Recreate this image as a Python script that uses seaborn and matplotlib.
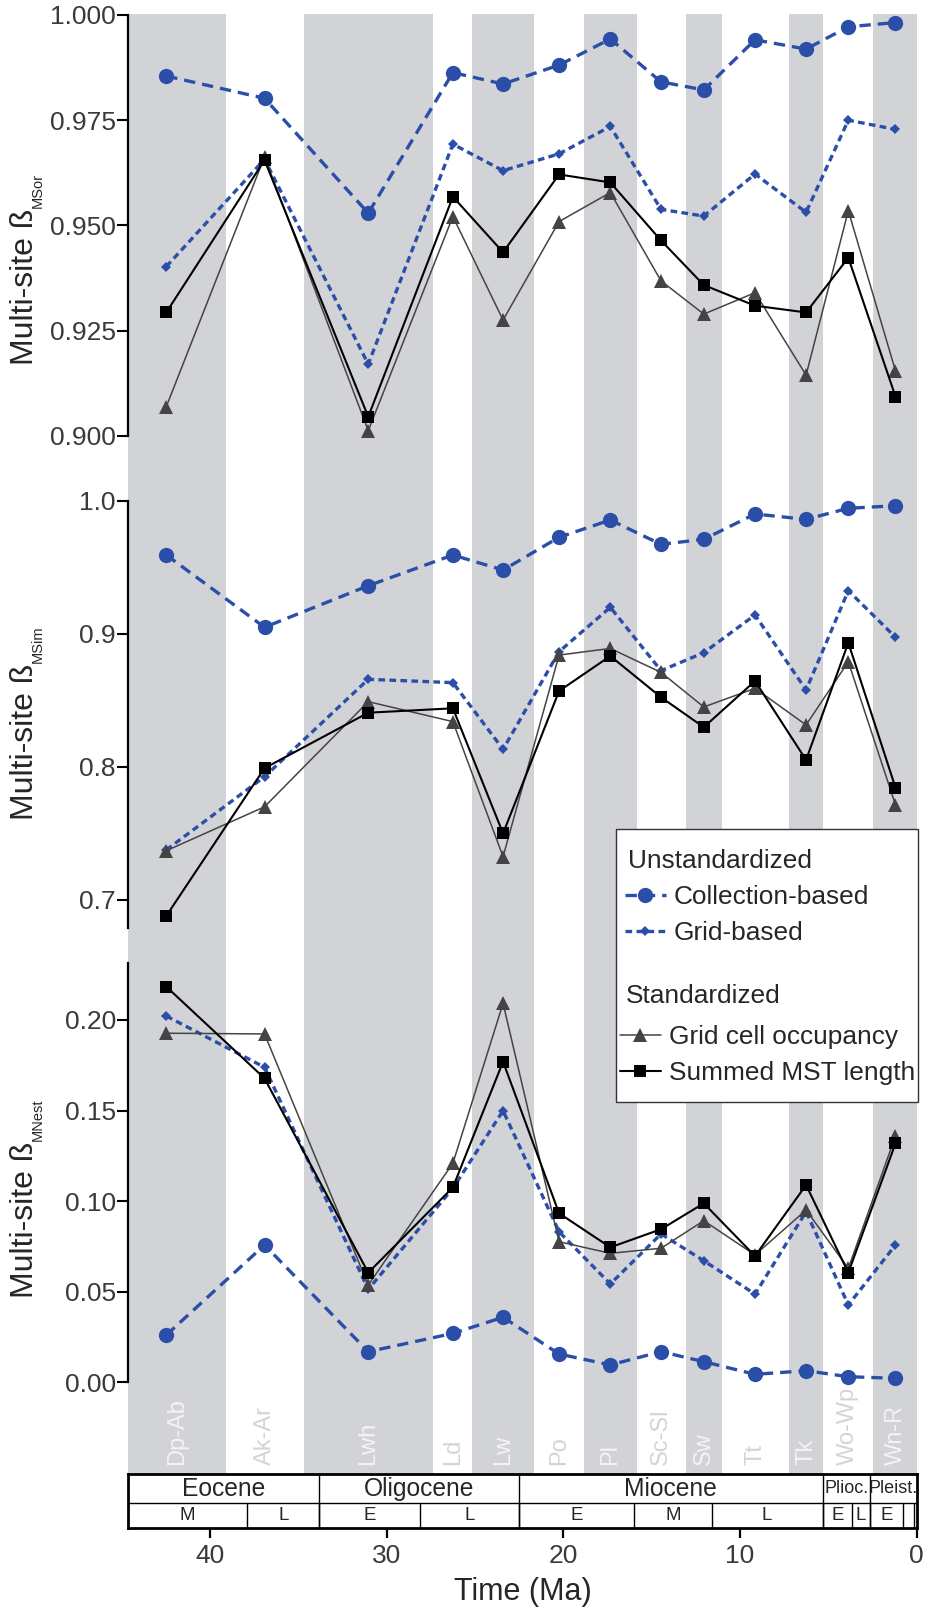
import matplotlib
matplotlib.use("Agg")
import matplotlib.pyplot as plt
import seaborn as sns
from matplotlib.lines import Line2D
from matplotlib.patches import Rectangle

# NZ stage bins (Ma), labels and bin mid-points
stage_labels = ["Dp-Ab", "Ak-Ar", "Lwh", "Ld", "Lw", "Po", "Pl", "Sc-Sl", "Sw", "Tt", "Tk", "Wo-Wp", "Wn-R"]
stage_edges = [45.8, 39.1, 34.7, 27.36, 25.15, 21.66, 18.83, 15.85, 13.07, 11.04, 7.24, 5.29, 2.46, 0.0]
stage_mid = [42.47, 36.91, 31.04, 26.25, 23.41, 20.24, 17.34, 14.47, 12.05, 9.15, 6.26, 3.87, 1.20]

# beta MSor
sor_collection = [0.9855, 0.9802, 0.9529, 0.9863, 0.9836, 0.9881, 0.9943, 0.9841, 0.9822, 0.9941, 0.9919, 0.9972, 0.9982]
sor_grid = [0.9402, 0.9657, 0.9170, 0.9693, 0.9630, 0.9670, 0.9735, 0.9538, 0.9522, 0.9622, 0.9531, 0.9750, 0.9728]
sor_occupancy = [0.9069, 0.9663, 0.9012, 0.9521, 0.9275, 0.9509, 0.9578, 0.9368, 0.9289, 0.9340, 0.9144, 0.9535, 0.9154]
sor_mst = [0.9293, 0.9655, 0.9045, 0.9568, 0.9436, 0.9621, 0.9602, 0.9464, 0.9358, 0.9309, 0.9293, 0.9423, 0.9093]

# beta MSim
sim_collection = [0.9592, 0.9049, 0.9361, 0.9592, 0.9479, 0.9725, 0.9855, 0.9672, 0.9710, 0.9900, 0.9860, 0.9943, 0.9962]
sim_grid = [0.7376, 0.7926, 0.8658, 0.8633, 0.8132, 0.8866, 0.9199, 0.8723, 0.8858, 0.9141, 0.8578, 0.9324, 0.8974]
sim_occupancy = [0.737, 0.770, 0.849, 0.834, 0.7325, 0.884, 0.889, 0.871, 0.845, 0.859, 0.8315, 0.879, 0.7714]
sim_mst = [0.688, 0.799, 0.8407, 0.844, 0.750, 0.857, 0.8833, 0.8523, 0.8298, 0.8645, 0.8052, 0.8933, 0.7844]

# beta MNest
nest_collection = [0.0261, 0.0758, 0.0169, 0.0270, 0.0359, 0.0156, 0.0096, 0.0169, 0.0114, 0.0044, 0.0064, 0.0031, 0.0022]
nest_grid = [0.2022, 0.1739, 0.0513, 0.1071, 0.1499, 0.0831, 0.0543, 0.0819, 0.0671, 0.0487, 0.0942, 0.0427, 0.0758]
nest_occupancy = [0.1927, 0.1923, 0.0537, 0.1209, 0.2092, 0.0776, 0.0712, 0.0740, 0.0892, 0.0703, 0.0951, 0.0629, 0.1360]
nest_mst = [0.2184, 0.1678, 0.0605, 0.1076, 0.1770, 0.0933, 0.0745, 0.0845, 0.0988, 0.0697, 0.1089, 0.0605, 0.1319]

# geological timescale
epoch_names = ["Eocene", "Oligocene", "Miocene", "Plioc.", "Pleist."]
epoch_edges = [44.62, 33.8, 22.5, 5.33, 2.65, 0.0]
sub_names = ["M", "L", "E", "L", "E", "M", "L", "E", "L", "E", "", ""]
sub_edges = [44.62, 37.9, 33.8, 28.1, 22.5, 16.0, 11.6, 5.33, 3.65, 2.65, 0.78, 0.13, 0.0]
time_ticks = [40, 30, 20, 10, 0]

XLIM = (44.62, 0.0)
BLUE = "#2b4fa9"
DGRAY = "#444444"
BAND = "#d1d3d6"
TICKC = "#3a3a3a"

sns.set_style("white")
plt.rcParams["font.family"] = ["Liberation Sans", "DejaVu Sans"]

W, H = 930, 1611
fig = plt.figure(figsize=(W / 100, H / 100), dpi=100)


def px_axes(top, bottom, left=128.3, right=916.7):
    return fig.add_axes([left / W, 1 - bottom / H, (right - left) / W, (bottom - top) / H])


# shaded stage bands behind everything
ax_bg = px_axes(14, 1474)
ax_bg.set_xlim(*XLIM)
ax_bg.set_ylim(0, 1)
ax_bg.axis("off")
for i, lab in enumerate(stage_labels):
    lo, hi = stage_edges[i], stage_edges[i + 1]
    gray = i % 2 == 0
    if gray:
        ax_bg.axvspan(hi, lo, color=BAND, lw=0)
    xm = (min(lo, XLIM[0]) + hi) / 2 if i == 0 else stage_mid[i]
    ax_bg.text(xm, 0.006, lab, rotation=90, ha="center", va="bottom", fontsize=17,
               color="#f4f4f4" if gray else "#d4d4d6", transform=ax_bg.get_xaxis_transform())

styles = {
    "Collection-based": dict(color=BLUE, lw=2.4, linestyle=(0, (3.4, 2.1)), marker="o", markersize=11),
    "Grid-based": dict(color=BLUE, lw=2.4, linestyle=(0, (2.0, 1.3)), marker="D", markersize=5.5),
    "Grid cell occupancy": dict(color=DGRAY, lw=1.1, linestyle="-", marker="^", markersize=10.5),
    "Summed MST length": dict(color="black", lw=1.5, linestyle="-", marker="s", markersize=9),
}

renderer = fig.canvas.get_renderer()


def draw_panel(top, bottom, ylim, ticks, fmt, series, sub, label_start):
    ax = px_axes(top, bottom)
    ax.patch.set_alpha(0)
    for name, vals in zip(styles, series):
        sns.lineplot(x=stage_mid, y=vals, ax=ax, sort=False, errorbar=None,
                     markeredgewidth=0, clip_on=False, **styles[name])
    ax.set_xlim(*XLIM)
    ax.set_ylim(*ylim)
    ax.set_yticks(ticks)
    ax.set_yticklabels([fmt % t for t in ticks])
    ax.xaxis.set_visible(False)
    for s in ["top", "right", "bottom"]:
        ax.spines[s].set_visible(False)
    ax.spines["left"].set_linewidth(1.6)
    ax.spines["left"].set_color("black")
    ax.spines["left"].set_bounds(*ylim)
    ax.tick_params(axis="y", direction="out", length=8, width=1.5, pad=1,
                   labelsize=19, labelcolor=TICKC, color="black", left=True)
    ax.set_ylabel("")
    # y label with a small subscript drawn right after it
    t = fig.text(33.3 / W, 1 - label_start / H, "Multi-site ß", rotation=90, rotation_mode="anchor",
                 ha="left", va="baseline", fontsize=23)
    bb = t.get_window_extent(renderer)
    fig.text(41.5 / W, (bb.y1 + 1) / H, sub, rotation=90, rotation_mode="anchor",
             ha="left", va="baseline", fontsize=10.5)
    return ax


draw_panel(15, 435.7, (0.9, 1.0), [0.900, 0.925, 0.950, 0.975, 1.000], "%.3f",
           [sor_collection, sor_grid, sor_occupancy, sor_mst], "MSor", 365)
draw_panel(500.7, 928.3, (0.6787, 1.0), [0.7, 0.8, 0.9, 1.0], "%.1f",
           [sim_collection, sim_grid, sim_occupancy, sim_mst], "MSim", 820)
draw_panel(963.3, 1382.3, (0.0, 0.2313), [0.00, 0.05, 0.10, 0.15, 0.20], "%.2f",
           [nest_collection, nest_grid, nest_occupancy, nest_mst], "MNest", 1298)

# timescale strip
ax_ts = px_axes(1474.3, 1527.7)
ax_ts.set_xlim(*XLIM)
ax_ts.set_ylim(0, 1)
mid = 0.468
ax_ts.axhline(mid, color="black", lw=1.0)
for e in epoch_edges[1:-1]:
    ax_ts.axvline(e, color="black", lw=1.0)
for e in sub_edges[1:-1]:
    ax_ts.vlines(e, 0, mid, color="black", lw=1.0)
for i, name in enumerate(epoch_names):
    x = (epoch_edges[i] + epoch_edges[i + 1]) / 2
    fs = 17.7 if i < 3 else 13
    ax_ts.text(x, (1 + mid) / 2, name, ha="center", va="center", fontsize=fs)
for i, name in enumerate(sub_names):
    x = (sub_edges[i] + sub_edges[i + 1]) / 2
    ax_ts.text(x, mid / 2, name, ha="center", va="center", fontsize=13.5)
for s in ax_ts.spines.values():
    s.set_visible(True)
    s.set_linewidth(2)
    s.set_color("black")
ax_ts.set_yticks([])
ax_ts.set_xticks(time_ticks)
ax_ts.set_xticklabels([str(t) for t in time_ticks])
ax_ts.tick_params(axis="x", direction="out", length=7, width=1.6, pad=5, bottom=True,
                  labelsize=19, labelcolor=TICKC, color="black")
ax_ts.set_xlabel("Time (Ma)", fontsize=22, labelpad=6)

# legend: framed box holding two headed groups
fig.patches.append(Rectangle((615.7 / W, 1 - 1101.7 / H), 302 / W, 272.4 / H, transform=fig.transFigure,
                             facecolor="white", edgecolor="#333333", lw=1.0, zorder=5))
fig.text(628 / W, 1 - 868 / H, "Unstandardized", ha="left", va="baseline", fontsize=18.9, zorder=7)
fig.text(626 / W, 1 - 1003 / H, "Standardized", ha="left", va="baseline", fontsize=18.9, zorder=7)


def handle(name):
    return Line2D([], [], markeredgewidth=0, **styles[name])


common = dict(frameon=False, fontsize=18.9, handlelength=1.55, handletextpad=0.3, labelspacing=0.45,
              borderpad=0, borderaxespad=0, loc="center left")
leg1 = fig.legend([handle("Collection-based"), handle("Grid-based")], ["Collection-based", "Grid-based"],
                  bbox_to_anchor=(625 / W, 1 - 915.4 / H), **common)
leg2 = fig.legend([handle("Grid cell occupancy"), handle("Summed MST length")],
                  ["Grid cell occupancy", "Summed MST length"],
                  bbox_to_anchor=(620 / W, 1 - 1055 / H), **common)
for lg in (leg1, leg2):
    lg.set_zorder(6)

fig.savefig("out.png", dpi=100)
